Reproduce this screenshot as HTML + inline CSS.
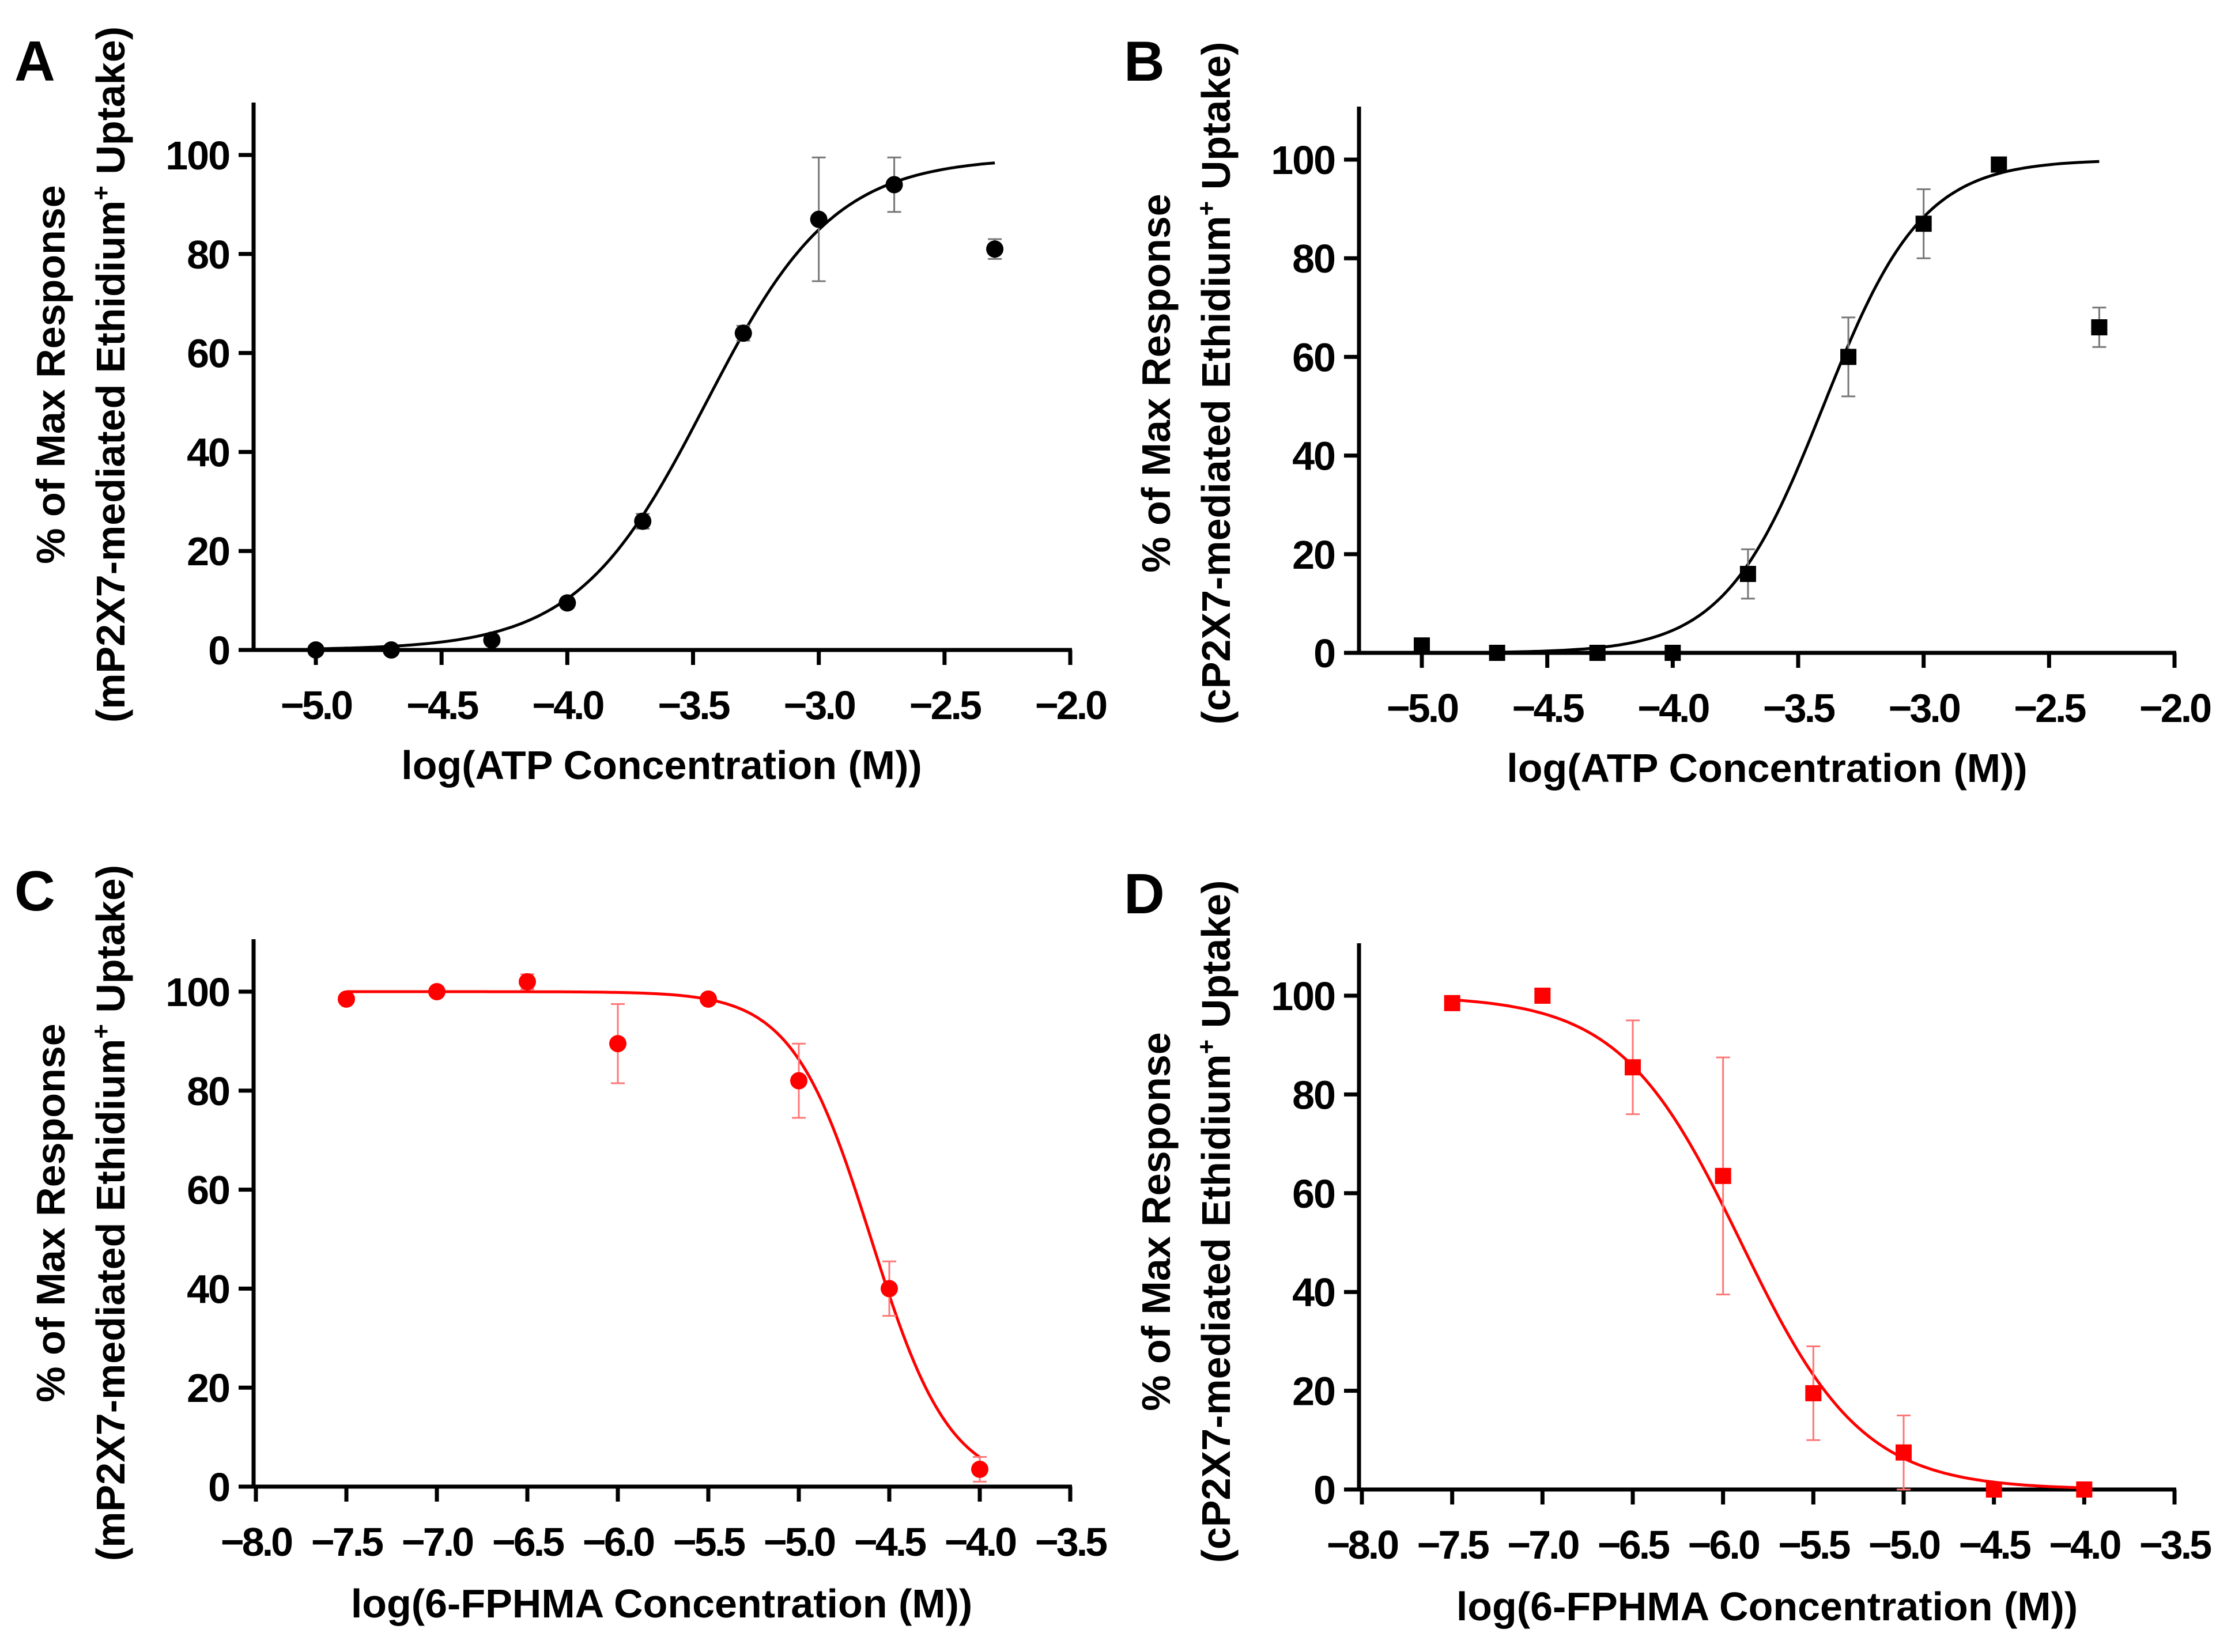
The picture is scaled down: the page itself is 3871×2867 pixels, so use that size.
<!DOCTYPE html>
<html><head><meta charset="utf-8"><style>
html,body{margin:0;padding:0;background:#fff}
svg{display:block}
text{font-family:"Liberation Sans",Arial,sans-serif;font-weight:bold;fill:#000}
</style></head><body>
<svg id="fig" width="3871" height="2867" viewBox="0 0 3871 2867" xmlns="http://www.w3.org/2000/svg"></svg>
<script>
// Panel A data
const aX=[-5,-4.7,-4.3,-4,-3.7,-3.3,-3,-2.7,-2.3];
const aY=[0,0,2,9.5,26,64,87,94,81];
const aErr=[0,0,0,1,1.5,1.5,12.5,5.5,2];
// Panel B data
const bX=[-5,-4.7,-4.3,-4,-3.7,-3.3,-3,-2.7,-2.3];
const bY=[1.5,0,0,0,16,60,87,99,66];
const bErr=[0,0,0,0,5,8,7,0,4];
// Panel C data
const cX=[-7.5,-7,-6.5,-6,-5.5,-5,-4.5,-4];
const cY=[98.5,100,102,89.5,98.5,82,40,3.5];
const cErr=[0,0,1.5,8,0,7.5,5.5,2.5];
// Panel D data
const dX=[-7.5,-7,-6.5,-6,-5.5,-5,-4.5,-4];
const dY=[98.5,100,85.5,63.5,19.5,7.5,0,0];
const dErr=[0,0,9.5,24,9.5,7.5,0,0];
// Tick labels
const yTicks=[0,20,40,60,80,100];
const xTicksAB=[-5.0,-4.5,-4.0,-3.5,-3.0,-2.5,-2.0];
const xTicksCD=[-8.0,-7.5,-7.0,-6.5,-6.0,-5.5,-5.0,-4.5,-4.0,-3.5];
// Fit parameters [top, logEC50, hill, direction]
const aFit=[99.5,-3.45,1.7,1];
const bFit=[100,-3.4,2.2,1];
const cFit=[100,-4.6,2.0,-1];
const dFit=[100,-5.9,1.3,-1];

const NS='http://www.w3.org/2000/svg';
const svg=document.getElementById('fig');
function mk(tag,attrs,parent){const e=document.createElementNS(NS,tag);for(const k in attrs)e.setAttribute(k,attrs[k]);(parent||svg).appendChild(e);return e;}
function fmt(v){return (v<0?'\u2212':'')+Math.abs(v).toFixed(1);}

function panel(p){
  const g=mk('g',{});
  
  
  const sx=v=>p.x0px+(v-p.x0v)*(p.x1px-p.x0px)/(p.x1v-p.x0v);
  const sy=v=>p.y0px+v*(p.y100px-p.y0px)/100;
  const col=p.color;
  const L=mk('text',{x:p.lx,y:p.ly,'font-size':98},g);L.textContent=p.id;
  
  
  const ya=mk('line',{x1:p.ax,y1:p.atop,x2:p.ax,y2:sy(0)+3,stroke:'#000','stroke-width':7},g);
  
  
  const xa=mk('line',{x1:p.ax-18,y1:sy(0),x2:p.xend+3,y2:sy(0),stroke:'#000','stroke-width':7},g);
  
  
  yTicks.forEach(t=>{
    mk('line',{x1:p.ax-26,y1:sy(t),x2:p.ax,y2:sy(t),stroke:'#000','stroke-width':7},g);
    const tx=mk('text',{x:p.ax-42,y:sy(t)+25,'font-size':70,'text-anchor':'end','letter-spacing':-2},g);tx.textContent=t;
    
    
  });
  p.xt.forEach(t=>{
    mk('line',{x1:sx(t),y1:sy(0),x2:sx(t),y2:sy(0)+26,stroke:'#000','stroke-width':7},g);
    const tx=mk('text',{x:sx(t),y:sy(0)+120,'font-size':70,'text-anchor':'middle','letter-spacing':-4},g);tx.textContent=fmt(t);
    
    
  });
  const xt=mk('text',{x:p.xtx,y:p.xty,'font-size':70,'text-anchor':'middle'},g);xt.textContent=p.xtitle;
  
  
  const yt=mk('text',{transform:`translate(${p.ytx},${p.yty}) rotate(-90)`,'font-size':70,'text-anchor':'middle'},g);
  
  
  const t1=mk('tspan',{x:0,y:0},yt);t1.textContent='% of Max Response';
  const t2=mk('tspan',{x:0,y:104},yt);t2.textContent=p.ytitle2;
  const sup=mk('tspan',{dy:-26,'font-size':44},yt);sup.textContent='+';
  const t3=mk('tspan',{dy:26},yt);t3.textContent=' Uptake)';
  const f=p.fit;let d='';
  for(let i=0;i<=200;i++){const x=p.cx0+(p.cx1-p.cx0)*i/200;
    const y=f[0]/(1+Math.pow(10,f[3]*(f[1]-x)*f[2]));
    d+=(i?'L':'M')+sx(x).toFixed(1)+' '+sy(y).toFixed(1);}
  const c=mk('path',{d:d,fill:'none',stroke:col,'stroke-width':5},g);
  
  
  p.X.forEach((x,i)=>{
    const e=p.E[i];
    if(e>0){
      const eb=mk('path',{d:`M${sx(x)} ${sy(p.Y[i]-e)}V${sy(p.Y[i]+e)}M${sx(x)-12} ${sy(p.Y[i]-e)}h24M${sx(x)-12} ${sy(p.Y[i]+e)}h24`,stroke:p.ecol,'stroke-width':3,fill:'none'},g);
      
      
    }
    let m;
    if(p.square) m=mk('rect',{x:sx(x)-14,y:sy(p.Y[i])-14,width:28,height:28,fill:col},g);
    else m=mk('circle',{cx:sx(x),cy:sy(p.Y[i]),r:15,fill:col},g);
    
    
  });
}
const ATP='log(ATP Concentration (M))',FP='log(6-FPHMA Concentration (M))';
panel({id:'A',lx:25,ly:140,ax:440,atop:178,x0v:-5,x1v:-2,x0px:548,x1px:1857,y0px:1128,y100px:269,xend:1857,xt:xTicksAB,
  X:aX,Y:aY,E:aErr,fit:aFit,cx0:-5,cx1:-2.3,color:'#000',ecol:'#777',square:false,
  xtitle:ATP,xtx:1148,xty:1352,ytx:112,yty:650,ytitle2:'(mP2X7-mediated Ethidium'});
panel({id:'B',lx:1950,ly:140,ax:2358,atop:185,x0v:-5,x1v:-2,x0px:2467,x1px:3773,y0px:1133,y100px:277,xend:3773,xt:xTicksAB,
  X:bX,Y:bY,E:bErr,fit:bFit,cx0:-5,cx1:-2.3,color:'#000',ecol:'#777',square:true,
  xtitle:ATP,xtx:3066,xty:1357,ytx:2030,yty:665,ytitle2:'(cP2X7-mediated Ethidium'});
panel({id:'C',lx:25,ly:1580,ax:440,atop:1630,x0v:-8,x1v:-3.5,x0px:444,x1px:1857,y0px:2580,y100px:1721,xend:1857,xt:xTicksCD,
  X:cX,Y:cY,E:cErr,fit:cFit,cx0:-7.5,cx1:-4,color:'#f00',ecol:'#f77',square:false,
  xtitle:FP,xtx:1148,xty:2807,ytx:112,yty:2105,ytitle2:'(mP2X7-mediated Ethidium'});
panel({id:'D',lx:1950,ly:1585,ax:2358,atop:1637,x0v:-8,x1v:-3.5,x0px:2363,x1px:3773,y0px:2585,y100px:1728,xend:3773,xt:xTicksCD,
  X:dX,Y:dY,E:dErr,fit:dFit,cx0:-7.5,cx1:-4,color:'#f00',ecol:'#f77',square:true,
  xtitle:FP,xtx:3066,xty:2812,ytx:2030,yty:2120,ytitle2:'(cP2X7-mediated Ethidium'});
</script>
</body></html>
